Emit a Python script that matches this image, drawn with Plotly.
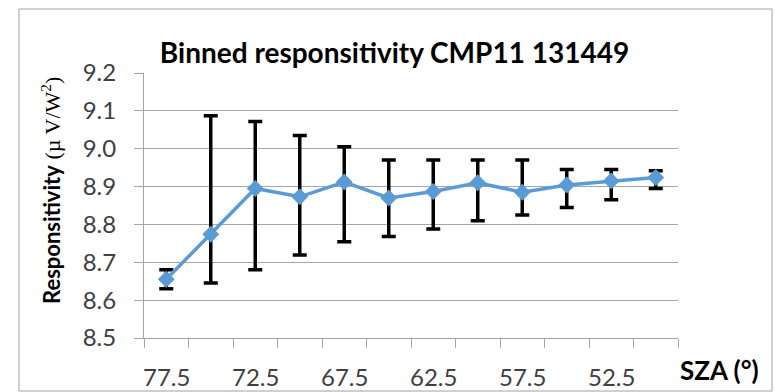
import plotly.graph_objects as go

# Solar zenith angle bins (degrees), plotted as categories from 77.5 down to 50
sza_bins = ["77.5", "75", "72.5", "70", "67.5", "65", "62.5", "60", "57.5", "55", "52.5", "50"]
# Only every other bin carries a label on the axis
label_step = 2

# Mean responsitivity per bin and the upper/lower ends of its error bar (µV/W m-2)
resp_mean = [8.655, 8.774, 8.895, 8.873, 8.912, 8.870, 8.887, 8.910, 8.885, 8.904, 8.915, 8.924]
resp_upper = [8.680, 9.087, 9.072, 9.035, 9.005, 8.970, 8.970, 8.970, 8.970, 8.945, 8.945, 8.942]
resp_lower = [8.630, 8.645, 8.680, 8.719, 8.754, 8.768, 8.788, 8.810, 8.825, 8.845, 8.865, 8.895]

err_plus = [u - m for u, m in zip(resp_upper, resp_mean)]
err_minus = [m - l for m, l in zip(resp_mean, resp_lower)]

BLUE = "#5B9BD5"
GRID = "#A6A6A6"
FONT = "Lato"

# plot-area geometry in pixels, used to place the free-floating texts
L, R, T, B = 144, 97, 73, 54
W, H = 775, 392
PW, PH = W - L - R, H - T - B


def px_x(p):
    return (p - L) / PW


def px_y(p):
    return (H - B - p) / PH


fig = go.Figure()
fig.add_trace(go.Scatter(
    x=sza_bins,
    y=resp_mean,
    mode="lines+markers",
    line=dict(color=BLUE, width=3.5),
    marker=dict(symbol="diamond", size=13, color=BLUE),
    error_y=dict(
        type="data",
        symmetric=False,
        array=err_plus,
        arrayminus=err_minus,
        color="black",
        thickness=3.5,
        width=7,
    ),
    showlegend=False,
    cliponaxis=False,
))

fig.update_layout(
    width=W,
    height=H,
    margin=dict(l=L, r=R, t=T, b=B),
    paper_bgcolor="white",
    plot_bgcolor="white",
    font=dict(family=FONT, color="#404040"),
    title=dict(
        text="<b>Binned responsitivity CMP11 131449</b>",
        font=dict(family=FONT, size=28, color="black"),
        x=(157 + 632) / 2 / W,
        xanchor="center",
        y=1 - 53 / H,
        yanchor="middle",
    ),
    # category axis: tick marks on the bin boundaries, labels added below
    xaxis=dict(
        type="category",
        tickson="boundaries",
        ticks="outside",
        ticklen=9,
        tickwidth=1,
        tickcolor=GRID,
        showticklabels=False,
        showline=True,
        linecolor=GRID,
        linewidth=1,
        showgrid=False,
        range=[-0.5, len(sza_bins) - 0.5],
        fixedrange=True,
    ),
    yaxis=dict(
        range=[8.5, 9.2],
        dtick=0.1,
        tick0=8.5,
        tickformat=".1f",
        ticks="outside",
        ticklen=9,
        tickwidth=1,
        tickcolor=GRID,
        ticklabelstandoff=13,
        showline=True,
        linecolor=GRID,
        linewidth=1,
        showgrid=True,
        gridcolor=GRID,
        gridwidth=1,
        zeroline=False,
        tickfont=dict(family=FONT, size=24, color="#404040"),
        fixedrange=True,
    ),
)

# category labels on every other bin, centred under their bin (x is the category index)
for i in range(0, len(sza_bins), label_step):
    fig.add_annotation(
        text=sza_bins[i],
        xref="x", yref="paper",
        x=i, y=px_y(376),
        xanchor="center", yanchor="middle",
        showarrow=False,
        font=dict(family=FONT, size=24, color="#404040"),
    )

# y-axis title, bold name followed by the unit in a serif face
fig.add_annotation(
    text="<b>Responsitivity</b> <span style=\"font-family:'Liberation Serif'\">(µ V/W<sup>2</sup>)</span>",
    textangle=-90,
    xref="paper", yref="paper",
    x=px_x(51), y=px_y(191),
    xanchor="center", yanchor="middle",
    showarrow=False,
    font=dict(family=FONT, size=22, color="black"),
)

# x-axis title placed to the right of the last category
fig.add_annotation(
    text="<b>SZA (°)</b>",
    xref="paper", yref="paper",
    x=px_x(719), y=px_y(370),
    xanchor="center", yanchor="middle",
    showarrow=False,
    font=dict(family=FONT, size=26, color="black"),
)

# Outer chart border
fig.add_shape(
    type="rect",
    xref="paper", yref="paper",
    x0=px_x(19), x1=px_x(772),
    y0=px_y(391), y1=px_y(9),
    line=dict(color="#A0A0A0", width=1),
    fillcolor="rgba(0,0,0,0)",
    layer="below",
)

fig.write_html("out.html")
